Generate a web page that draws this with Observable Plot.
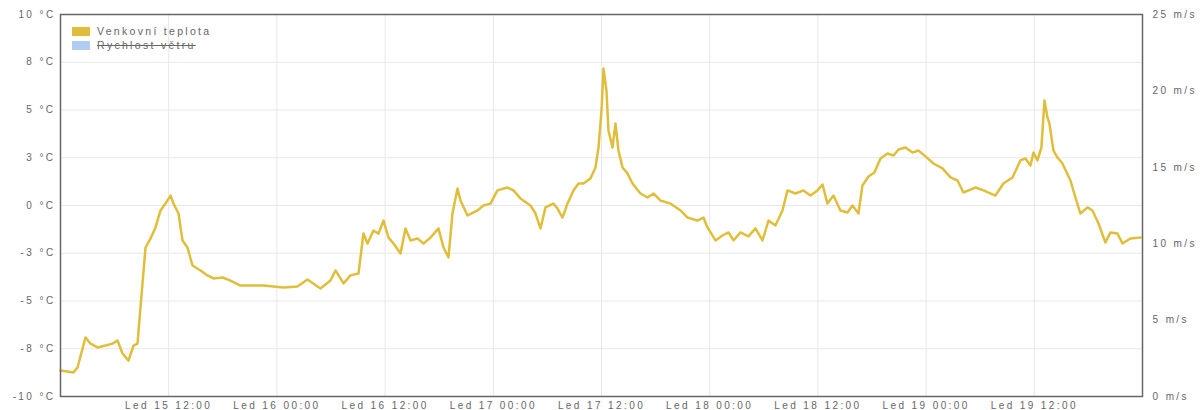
<!DOCTYPE html>
<html><head><meta charset="utf-8">
<script src="https://cdn.jsdelivr.net/npm/d3@7"></script>
<script src="https://cdn.jsdelivr.net/npm/@observablehq/plot@0.6"></script>
<style>
body{margin:0;background:#fff;}
#wrap{position:relative;width:1203px;height:410px;font-family:"Liberation Sans",Arial,sans-serif;}
#wrap svg text{letter-spacing:2.4px;}
.legend{position:absolute;left:72px;font-size:10.5px;color:#666;letter-spacing:2.3px;display:flex;align-items:center;height:12px;white-space:nowrap;}
.sw{display:inline-block;width:18px;height:9px;margin-right:7px;}
.off{text-decoration:line-through;}
</style></head><body><div id="wrap"></div>
<script>
// Start of the time window (hours below are offsets from it)
const startTime = Date.UTC(2024, 0, 15, 0, 0);
const endTime = Date.UTC(2024, 0, 20, 0, 0);
const hours = [0,1.44,1.89,2.77,3.33,4.10,4.99,5.77,6.32,6.88,7.54,8.10,8.54,8.87,9.43,9.98,10.54,11.09,11.64,12.20,12.53,13.09,13.53,14.08,14.64,15.53,16.30,16.97,17.97,18.85,19.96,22.51,24.73,26.28,27.39,28.83,29.94,30.50,31.39,32.16,33.05,33.60,34.05,34.71,35.27,35.82,36.38,36.93,37.71,38.26,38.82,39.59,40.26,41.03,41.92,42.48,43.03,43.47,44.03,44.36,45.14,46.25,46.91,47.69,48.46,49.57,50.24,51.01,52.12,52.68,53.23,53.79,54.67,55.12,55.67,56.23,56.89,57.45,58.00,58.78,59.33,59.67,60.00,60.22,60.55,60.77,61.22,61.55,61.88,62.33,62.88,63.44,64.32,65.10,65.76,66.54,67.65,68.76,69.54,70.64,71.31,71.75,72.64,73.42,74.08,74.64,75.41,76.30,77.08,77.85,78.52,79.29,80.07,80.63,81.51,82.40,83.18,83.95,84.51,85.06,85.73,86.50,87.28,87.83,88.50,88.94,89.61,90.27,90.94,91.72,92.38,92.94,93.71,94.49,95.15,95.93,96.82,97.82,98.70,99.48,100.14,101.47,102.36,103.69,104.58,105.58,106.46,107.02,107.57,107.91,108.35,108.79,109.13,109.46,109.68,110.12,110.57,111.12,112.01,112.56,113.12,113.90,114.45,115.12,115.89,116.45,117.22,117.78,118.66,119.77];
const temps = [-8.64,-8.74,-8.48,-6.91,-7.23,-7.43,-7.33,-7.23,-7.07,-7.75,-8.12,-7.33,-7.23,-5.34,-2.20,-1.73,-1.15,-0.26,0.10,0.52,0.10,-0.42,-1.83,-2.20,-3.14,-3.40,-3.66,-3.82,-3.77,-3.93,-4.19,-4.19,-4.29,-4.24,-3.87,-4.35,-3.93,-3.40,-4.08,-3.66,-3.56,-1.47,-1.99,-1.31,-1.47,-0.79,-1.68,-1.99,-2.51,-1.20,-1.83,-1.73,-1.99,-1.68,-1.20,-2.20,-2.72,-0.42,0.89,0.26,-0.52,-0.26,0.00,0.10,0.79,0.94,0.79,0.37,0.00,-0.42,-1.20,-0.10,0.10,-0.16,-0.63,0.10,0.79,1.15,1.15,1.41,1.99,3.04,4.97,7.17,6.02,3.93,3.04,4.29,2.88,1.99,1.68,1.15,0.63,0.42,0.63,0.26,0.10,-0.26,-0.63,-0.79,-0.63,-1.15,-1.83,-1.57,-1.41,-1.83,-1.41,-1.62,-1.20,-1.83,-0.79,-1.05,-0.26,0.79,0.63,0.79,0.52,0.79,1.10,0.10,0.52,-0.26,-0.37,0.00,-0.42,1.05,1.52,1.73,2.46,2.72,2.62,2.93,3.04,2.77,2.88,2.57,2.20,1.94,1.47,1.31,0.68,0.94,0.79,0.52,1.15,1.47,2.36,2.46,2.09,2.77,2.36,3.04,5.50,4.61,4.29,2.88,2.51,2.20,1.31,0.42,-0.42,-0.10,-0.26,-0.94,-1.94,-1.41,-1.47,-1.99,-1.73,-1.68];

const seriesNames = ["Venkovní teplota", "Rychlost větru"];
const seriesColors = ["#e0be3c", "#b3cdf2"];

const tempTicks = [-10, -7.5, -5, -2.5, 0, 2.5, 5, 7.5, 10];
const tempTickLabels = ["-10 °C", "-8 °C", "-5 °C", "-3 °C", "0 °C", "3 °C", "5 °C", "8 °C", "10 °C"];
const windTicks = [0, 5, 10, 15, 20, 25];
const windTickLabels = ["0 m/s", "5 m/s", "10 m/s", "15 m/s", "20 m/s", "25 m/s"];
const timeTicks = ["2024-01-15T12:00Z", "2024-01-16T00:00Z", "2024-01-16T12:00Z", "2024-01-17T00:00Z", "2024-01-17T12:00Z", "2024-01-18T00:00Z", "2024-01-18T12:00Z", "2024-01-19T00:00Z", "2024-01-19T12:00Z"];
const timeTickLabels = ["Led 15 12:00", "Led 16 00:00", "Led 16 12:00", "Led 17 00:00", "Led 17 12:00", "Led 18 00:00", "Led 18 12:00", "Led 19 00:00", "Led 19 12:00"];

const data = hours.map((h, i) => ({time: new Date(startTime + h * 3600e3), temp: temps[i]}));
const timeDates = timeTicks.map(s => new Date(s));
const timeLabelMap = new Map(timeDates.map((d, i) => [d.getTime(), timeTickLabels[i]]));
const tempLabelMap = new Map(tempTicks.map((t, i) => [t, tempTickLabels[i]]));
// wind (0..25 m/s) shares the vertical extent of temperature (-10..10 °C)
const windToTemp = w => -10 + w * (20 / 25);
const windPos = windTicks.map(windToTemp);
const windLabelMap = new Map(windPos.map((p, i) => [p, windTickLabels[i]]));

const chart = Plot.plot({
  width: 1203, height: 410,
  marginLeft: 60, marginRight: 61, marginTop: 14, marginBottom: 14,
  style: {fontFamily: '"Liberation Sans", Arial, sans-serif', fontSize: "10px", color: "#666", background: "#fff"},
  x: {type: "utc", domain: [new Date(startTime), new Date(endTime)]},
  y: {domain: [-10, 10]},
  marks: [
    Plot.gridY(tempTicks, {stroke: "#e8e8e8", strokeOpacity: 1}),
    Plot.gridX(timeDates, {stroke: "#e8e8e8", strokeOpacity: 1}),
    Plot.axisY(tempTicks, {anchor: "left", tickSize: 0, tickPadding: 5, tickFormat: d => tempLabelMap.get(d), label: null}),
    Plot.axisY(windPos, {anchor: "right", tickSize: 0, tickPadding: 10, tickFormat: d => windLabelMap.get(d), label: null}),
    Plot.axisX(timeDates, {anchor: "bottom", tickSize: 0, tickPadding: 5, tickFormat: d => timeLabelMap.get(d.getTime()), label: null}),
    Plot.line(data, {x: "time", y: "temp", stroke: seriesColors[0], strokeWidth: 2.5, strokeLinejoin: "round"}),
    Plot.frame({stroke: "#666", strokeWidth: 1.5})
  ]
});
const wrap = document.getElementById("wrap");
wrap.appendChild(chart);

seriesNames.forEach((name, i) => {
  const row = document.createElement("div");
  row.className = "legend";
  row.style.top = (i === 0 ? 25 : 39) + "px";
  const sw = document.createElement("span");
  sw.className = "sw";
  sw.style.background = seriesColors[i];
  const label = document.createElement("span");
  label.textContent = name;
  if (i === 1) label.className = "off";
  row.appendChild(sw);
  row.appendChild(label);
  wrap.appendChild(row);
});
</script>
</body></html>
